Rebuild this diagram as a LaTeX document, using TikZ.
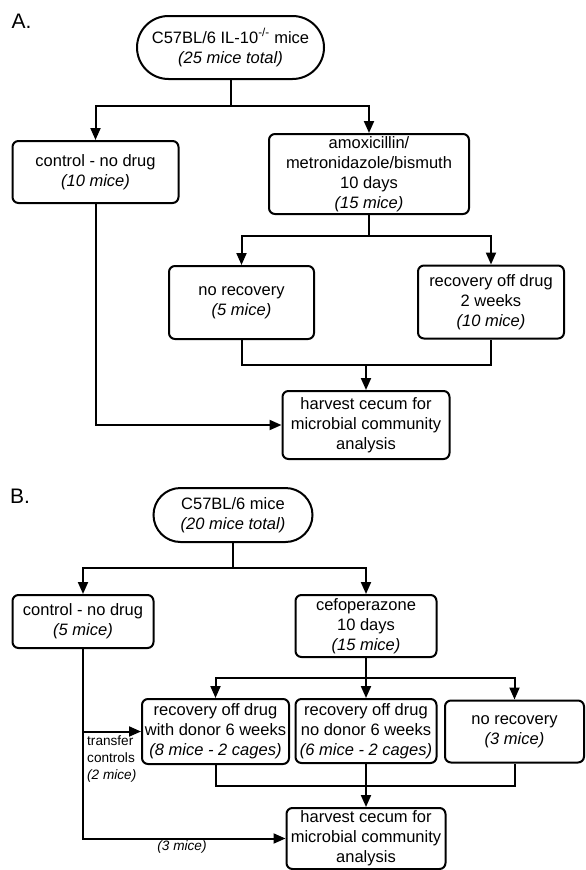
\documentclass[tikz,border=0pt]{standalone}
\usepackage{fontspec}
\setmainfont{Liberation Sans}
\usetikzlibrary{shapes.misc,arrows.meta}
\newcommand\msz{\fontsize{16.5}{20}\selectfont}
\newcommand\ssz{\fontsize{13.6}{16.7}\selectfont}
\tikzset{
  box/.style={draw, line width=2pt, rounded corners=6pt, align=center, inner sep=0pt, font=\msz},
  pill/.style={draw, line width=2pt, rounded rectangle, align=center, inner sep=0pt, font=\msz},
  conn/.style={line width=2pt},
  arr/.style={conn, -{Triangle[length=12pt,width=10pt]}},
  panel/.style={font=\fontsize{21}{21}\selectfont},
  note/.style={font=\ssz, inner sep=0pt, align=left}
}
\begin{document}
\begin{tikzpicture}[x=1pt,y=-1pt]
\useasboundingbox (0,0) rectangle (586,870);
% ---------- Panel A ----------
\node[panel] (labA) at (21.5,21) {A.};
\node[pill, minimum width=187pt, minimum height=63pt] (topA) at (230.5,47.5)
  {C57BL/6 IL-10\textsuperscript{-/-} mice\\\textit{(25 mice total)}};
\node[box, minimum width=166pt, minimum height=62pt] (ctrlA) at (95.5,172)
  {control - no drug\\\textit{(10 mice)}};
\node[box, minimum width=200pt, minimum height=80pt] (amox) at (369,174)
  {amoxicillin/\\metronidazole/bismuth\\10 days\\\textit{(15 mice)}};
\node[box, minimum width=145pt, minimum height=73pt] (norecA) at (241.5,302.5)
  {no recovery\\\textit{(5 mice)}};
\node[box, minimum width=146pt, minimum height=73pt] (recA) at (491,302)
  {recovery off drug\\2 weeks\\\textit{(10 mice)}};
\node[box, minimum width=167pt, minimum height=68pt] (harvA) at (366,425)
  {harvest cecum for\\microbial community\\analysis};
\coordinate (jA1) at (230.5,106);
\coordinate (jA2) at (369,236);
\coordinate (jA3) at (366,365);
\draw[conn] (topA.south) -- (jA1);
\draw[arr] (jA1) -| (ctrlA.north);
\draw[arr] (jA1) -| (amox.north);
\draw[conn] (amox.south) -- (jA2);
\draw[arr] (jA2) -| (norecA.north);
\draw[arr] (jA2) -| (recA.north);
\draw[conn] (norecA.south) |- (jA3) -| (recA.south);
\draw[arr] (jA3) -- (harvA.north);
\draw[arr] (ctrlA.south) |- (harvA.west);
% ---------- Panel B ----------
\node[panel] (labB) at (20,496) {B.};
\node[pill, minimum width=159pt, minimum height=54pt] (topB) at (233,515)
  {C57BL/6 mice\\\textit{(20 mice total)}};
\node[box, minimum width=141pt, minimum height=53pt] (ctrlB) at (83,621.5)
  {control - no drug\\\textit{(5 mice)}};
\node[box, minimum width=141pt, minimum height=62pt] (cefo) at (366,626)
  {cefoperazone\\10 days\\\textit{(15 mice)}};
\node[box, minimum width=147pt, minimum height=65pt] (left) at (215.5,731.5)
  {recovery off drug\\with donor 6 weeks\\\textit{(8 mice - 2 cages)}};
\node[box, minimum width=141pt, minimum height=64pt] (mid) at (366,731)
  {recovery off drug\\no donor 6 weeks\\\textit{(6 mice - 2 cages)}};
\node[box, minimum width=139pt, minimum height=62pt] (right) at (514.5,731.5)
  {no recovery\\\textit{(3 mice)}};
\node[box, minimum width=159pt, minimum height=61pt] (harvB) at (366,838.5)
  {harvest cecum for\\microbial community\\analysis};
\coordinate (jB1) at (233,568);
\coordinate (jB2) at (366,678);
\coordinate (jB3) at (366,786);
\draw[conn] (topB.south) -- (jB1);
\draw[arr] (jB1) -| (ctrlB.north);
\draw[arr] (jB1) -| (cefo.north);
\draw[arr] (cefo.south) -- (mid.north);
\draw[arr] (jB2) -| (left.north);
\draw[arr] (jB2) -| (right.north);
\draw[conn] (left.south) |- (jB3) -| (right.south);
\draw[arr] (mid.south) -- (harvB.north);
\draw[arr] (ctrlB.south) |- (harvB.west);
\coordinate (br) at (ctrlB.south |- left.west);
\draw[arr] (br) -- (left.west);
\node[note, anchor=west] (tr) at (87,759) {transfer\\controls\\\textit{(2 mice)}};
\node[note] (three) at (182,847) {\textit{(3 mice)}};
\end{tikzpicture}
\end{document}
